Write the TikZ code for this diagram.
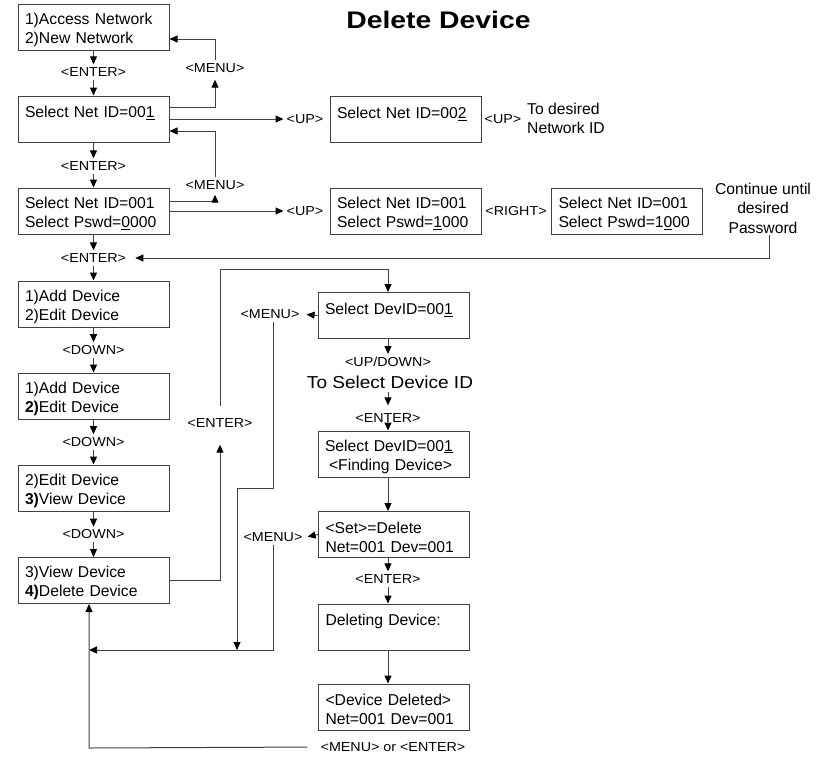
\documentclass[tikz,border=0pt]{standalone}
\usepackage{fontspec}
\setmainfont{Liberation Sans}
\newfontfamily\lblfont{Liberation Sans}[FakeStretch=1.1]
\newfontfamily\ttlfont{Liberation Sans}[FakeStretch=1.18]
\usetikzlibrary{arrows.meta}
\tikzset{
  scr/.style={draw=black!75, line width=1pt, rectangle, minimum width=151pt, minimum height=46pt,
    text width=137pt, inner xsep=7pt, inner ysep=2pt, align=left,
    font=\fontsize{15.7}{18.8}\selectfont, execute at begin node=\rule{0pt}{16.5pt}},
  lbl/.style={inner sep=3pt, font=\lblfont\fontsize{13}{15}\selectfont},
  txt/.style={inner sep=2pt, font=\fontsize{15.7}{19.5}\selectfont},
  con/.style={draw=black!75, line width=1pt},
  arr/.style={con, -{Triangle[length=8pt,width=7pt,color=black]}},
}
\begin{document}
\begin{tikzpicture}[x=1pt,y=-1pt]
\useasboundingbox[fill=white] (0,0) rectangle (824,756);
% title
\node[font=\ttlfont\bfseries\fontsize{24}{28}\selectfont] (ttl) at (438.5,20) {Delete Device};
% left column
\node[scr] (b1) at (93.5,27) {1)Access Network\\2)New Network};
\node[scr] (b2) at (93.5,119) {Select Net ID=00\underline{1}\\\mbox{}};
\node[scr] (b4) at (93.5,211) {Select Net ID=001\\Select Pswd=\underline{0}000};
\node[scr] (b7) at (93.5,304) {1)Add Device\\2)Edit Device};
\node[scr] (b8) at (93.5,396) {1)Add Device\\\textbf{2)}Edit Device};
\node[scr] (b9) at (93.5,488) {2)Edit Device\\\textbf{3)}View Device};
\node[scr] (b10) at (93.5,580.5) {3)View Device\\\textbf{4)}Delete Device};
% middle/top right
\node[scr] (b3) at (405.5,119.5) {Select Net ID=00\underline{2}\\\mbox{}};
\node[scr] (b5) at (405.5,211) {Select Net ID=001\\Select Pswd=\underline{1}000};
\node[scr] (b6) at (627,211) {Select Net ID=001\\Select Pswd=1\underline{0}00};
% right column
\node[scr] (d1) at (393.5,315.5) {Select DevID=00\underline{1}\\\mbox{}};
\node[scr] (d2) at (393.5,454) {Select DevID=00\underline{1}\\\hspace*{4pt}<Finding Device>};
\node[scr] (d3) at (394,534.5) {<Set>=Delete\\Net=001 Dev=001};
\node[scr] (d4) at (394,627) {Deleting Device:\\\mbox{}};
\node[scr] (d5) at (394,707) {<Device Deleted>\\Net=001 Dev=001};
% labels
\node[lbl] (e1) at (93.5,72) {<ENTER>};
\node[lbl] (e2) at (93.5,166) {<ENTER>};
\node[lbl] (e3) at (93.5,258) {<ENTER>};
\node[lbl] (w1) at (93.5,350) {<DOWN>};
\node[lbl] (w2) at (93.5,442) {<DOWN>};
\node[lbl] (w3) at (93.5,534.5) {<DOWN>};
\node[lbl] (m1) at (215,68) {<MENU>};
\node[lbl] (m2) at (215,185) {<MENU>};
\node[lbl] (u1) at (305,119) {<UP>};
\node[lbl] (u2) at (503,119) {<UP>};
\node[lbl] (u3) at (305,211) {<UP>};
\node[lbl] (r1) at (516,211) {<RIGHT>};
\node[txt, align=left] (t1) at (566,118.5) {To desired\\Network ID};
\node[txt, align=center] (t2) at (763,208) {Continue until\\desired\\Password};
\node[lbl] (e4) at (220,423) {<ENTER>};
\node[lbl] (m3) at (270,314) {<MENU>};
\node[lbl] (m4) at (273,537) {<MENU>};
\node[lbl] (ud) at (388,362) {<UP/DOWN>};
\node[lbl, font=\lblfont\fontsize{17.3}{20}\selectfont] (tsd) at (390,382) {To Select Device ID};
\node[lbl] (e5) at (388,418) {<ENTER>};
\node[lbl] (e6) at (388,579) {<ENTER>};
\node[lbl] (mo) at (393,747) {<MENU> or <ENTER>};
% coordinates
\coordinate (ax) at (388,0);
\coordinate (cu) at (769,258);
\coordinate (ax1) at (388,269);
\coordinate (j1) at (273,488);
\coordinate (j2) at (237,488);
\coordinate (j3) at (237,650);
\coordinate (j4) at (273,650);
\coordinate (j5) at (89,650);
\coordinate (j6) at (89,748);
% left column connectors
\draw[arr] (b1.south) -- (e1.north);
\draw[arr] (e1.south) -- (b2.north);
\draw[arr] (b2.south) -- (e2.north);
\draw[arr] (e2.south) -- (b4.north);
\draw[arr] (b4.south) -- (e3.north);
\draw[arr] (e3.south) -- (b7.north);
\draw[arr] (b7.south) -- (w1.north);
\draw[arr] (w1.south) -- (b8.north);
\draw[arr] (b8.south) -- (w2.north);
\draw[arr] (w2.south) -- (b9.north);
\draw[arr] (b9.south) -- (w3.north);
\draw[arr] (w3.south) -- (b10.north);
% menu loops
\draw[arr, shorten >=4pt] ([yshift=12pt]b2.east) -| (m1.south);
\draw[arr] (m1.north) |- ([yshift=-12pt]b1.east);
\draw[arr, shorten >=2pt] ([yshift=10pt]b4.east) -| (m2.south);
\draw[arr] (m2.north) |- ([yshift=-12pt]b2.east);
% up arrows
\draw[arr] (b2.east) -- (u1.west);
\draw[arr] (b4.east) -- (u3.west);
% password feedback
\draw[arr, shorten >=6pt] (t2.south -| cu) -- (cu) -- (e3.east);
% select device
\draw[arr, shorten >=14pt] (b10.east) -| (e4.south);
\draw[arr, shorten <=9pt] (e4.north) |- (ax1) -- (ax1 |- d1.north);
\draw[arr] (d1.south -| ax) -- (ud.north);
\draw[arr, shorten >=5pt] (tsd.south -| ax) -- (e5.north);
\draw[arr] (e5.south) -- (d2.north -| ax);
\draw[arr] (d2.south -| ax) -- (d3.north -| ax);
\draw[arr] (d3.south -| ax) -- (e6.north);
\draw[arr] (e6.south) -- (d4.north -| ax);
\draw[arr] (d4.south -| ax) -- (d5.north -| ax);
% menu returns
\draw[arr, shorten >=4pt] (d1.west) -- (m3.east);
\draw[arr] (m3.south -| j1) -- (j1) -- (j2) -- (j3);
\draw[arr, shorten >=2pt] (d3.west) -- (m4.east);
\draw[arr] (m4.south -| j4) -- (j4) -- (j5);
\draw[arr, shorten <=10pt] (mo.west) -- (j6) -- (j6 |- b10.south);
\end{tikzpicture}
\end{document}
